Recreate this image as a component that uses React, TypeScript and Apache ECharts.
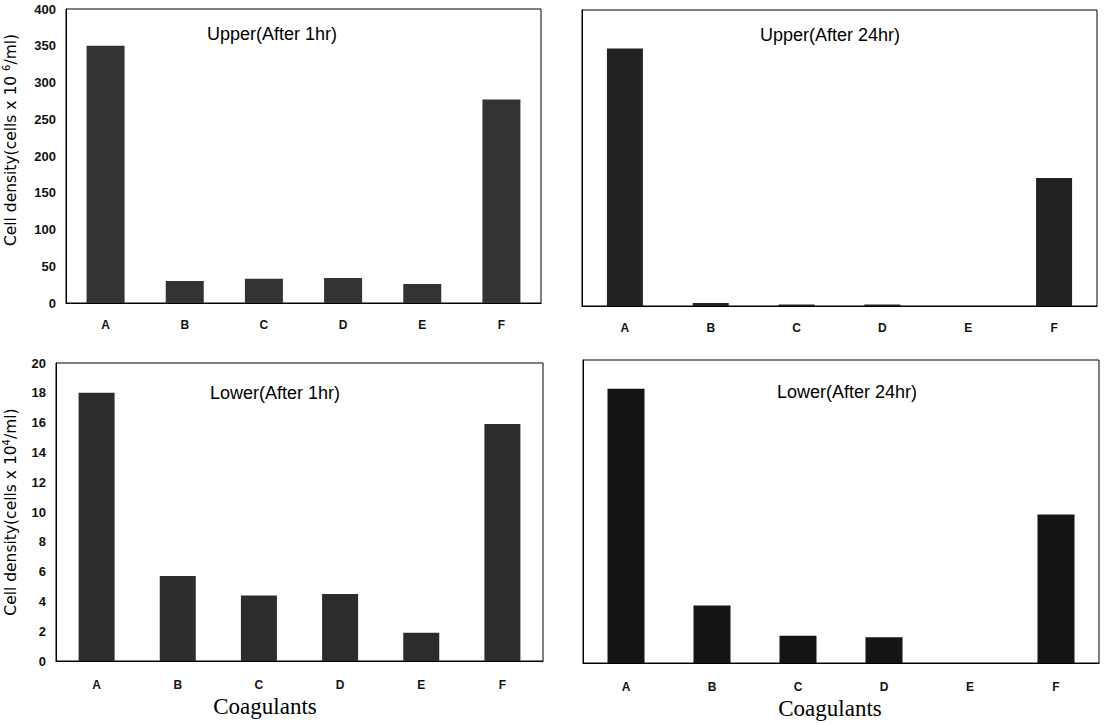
import React, { useEffect, useRef } from "react";
import * as echarts from "echarts";

const categories = ["A", "B", "C", "D", "E", "F"];
const upper1hr = [350, 30, 33, 34, 26, 277];
const upper24hr = [348, 4, 2, 2, 0, 173];
const lower1hr = [18, 5.7, 4.4, 4.5, 1.9, 15.9];
const lower24hr = [18.1, 3.8, 1.8, 1.7, 0, 9.8];
const panelTitles = ["Upper(After 1hr)", "Upper(After 24hr)", "Lower(After 1hr)", "Lower(After 24hr)"];
const xAxisTitle = "Coagulants";

const SANS = "'Liberation Sans', Arial, sans-serif";
const WIDE = "'DejaVu Sans', Verdana, sans-serif";

export default function App() {
  const ref = useRef<HTMLDivElement>(null);
  useEffect(() => {
    if (!ref.current) return;
    const chart = echarts.init(ref.current, null, { renderer: "svg" });
    const grids = [
      { left: 58, top: 9, width: 483, height: 294 },
      { left: 582, top: 10, width: 515, height: 296 },
      { left: 48, top: 363, width: 495, height: 298 },
      { left: 583, top: 360, width: 516, height: 303 },
    ];
    const barColors = ["#333333", "#222222", "#2c2c2c", "#151515"];
    const barWidths = [38, 36, 36, 37];
    const data = [upper1hr, upper24hr, lower1hr, lower24hr];
    const titlePos = [
      { x: 267, y: 20 },
      { x: 825, y: 21 },
      { x: 270, y: 379 },
      { x: 842, y: 378 },
    ];
    const rich = {
      m: { fontSize: 15.5, fontFamily: WIDE, color: "#000", lineHeight: 20 },
      s: { fontSize: 10, fontFamily: WIDE, color: "#000", lineHeight: 20, verticalAlign: "top" },
    };
    const option: any = {
      animation: false,
      backgroundColor: "#fff",
      title: panelTitles.map((t, i) => ({
        text: t,
        left: titlePos[i].x,
        top: titlePos[i].y,
        textAlign: "center",
        textStyle: { fontFamily: SANS, fontSize: 18, fontWeight: "normal", color: "#000" },
      })),
      grid: grids.map((g) => ({
        ...g,
        show: true,
        borderColor: "#000",
        borderWidth: 1,
        backgroundColor: "transparent",
        containLabel: false,
      })),
      xAxis: grids.map((_, i) => ({
        type: "category",
        gridIndex: i,
        data: categories,
        axisTick: { show: false },
        axisLine: { show: true, lineStyle: { color: "#000", width: 1.2 } },
        axisLabel: { margin: i < 2 ? 16 : 18, fontSize: 12, fontWeight: "bold", fontFamily: SANS, color: "#111" },
      })),
      yAxis: grids.map((_, i) => {
        const upper = i < 2;
        const showLabels = i % 2 === 0;
        return {
          type: "value",
          gridIndex: i,
          min: 0,
          max: upper ? 400 : 20,
          interval: upper ? 50 : 2,
          splitLine: { show: false },
          axisTick: { show: false },
          axisLine: { show: true, lineStyle: { color: "#000", width: 1 } },
          axisLabel: { show: showLabels, margin: 10, fontSize: 13, fontWeight: "bold", fontFamily: SANS, color: "#111" },
          name: showLabels
            ? upper
              ? "{m|Cell density(cells x 10 }{s|6}{m|/ml)}"
              : "{m|Cell density(cells x 10}{s|4}{m|/ml)}"
            : "",
          nameLocation: "middle",
          nameGap: upper ? 45 : 35,
          nameRotate: 90,
          nameTextStyle: {
            fontSize: 15.5,
            fontFamily: WIDE,
            color: "#000",
            rich,
            padding: upper ? [0, 0, 0, 32] : [0, 0, 0, 0],
          },
        };
      }),
      series: data.map((d, i) => ({
        type: "bar",
        xAxisIndex: i,
        yAxisIndex: i,
        data: d,
        barWidth: barWidths[i],
        itemStyle: { color: barColors[i] },
      })),
      graphic: [
        {
          type: "text",
          x: 265,
          y: 706,
          style: {
            text: xAxisTitle,
            fontFamily: "'Liberation Serif', 'DejaVu Serif', serif",
            fontSize: 23,
            fill: "#000",
            align: "center",
            verticalAlign: "middle",
          },
        },
        {
          type: "text",
          x: 830,
          y: 708,
          style: {
            text: xAxisTitle,
            fontFamily: "'Liberation Serif', 'DejaVu Serif', serif",
            fontSize: 23,
            fill: "#000",
            align: "center",
            verticalAlign: "middle",
          },
        },
      ],
    };
    chart.setOption(option);
    return () => chart.dispose();
  }, []);
  return (
    <div
      ref={ref}
      style={{ position: "fixed", left: 0, top: 0, width: 1105, height: 725, background: "#fff" }}
    />
  );
}
